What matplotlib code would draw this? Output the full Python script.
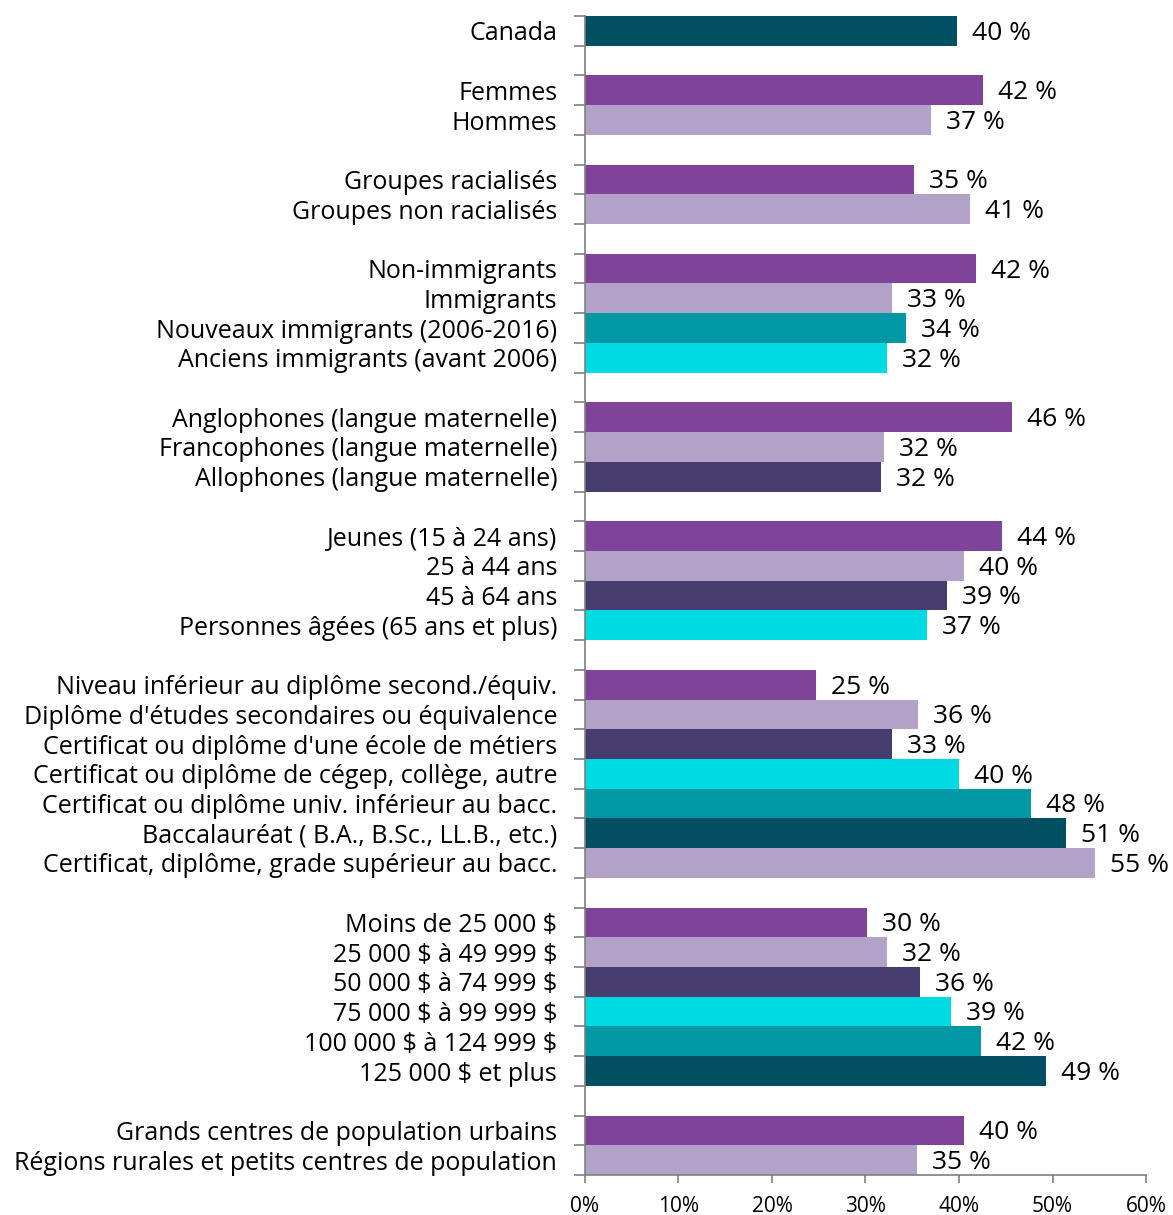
import matplotlib.pyplot as plt
import numpy as np

plt.rcParams['font.family'] = ['Open Sans', 'DejaVu Sans']
plt.rcParams['text.parse_math'] = False

DT = '#004f63'   # dark teal
PU = '#7f4499'   # purple
LP = '#b3a2c8'   # light purple
IN = '#463c6d'   # indigo
CY = '#00dae3'   # cyan
TE = '#0098a4'   # teal

# groups of (label, value, value label, colour); a gap row separates groups
groups = [
    [('Canada', 39.8, '40 %', DT)],
    [('Femmes', 42.6, '42 %', PU),
     ('Hommes', 37.0, '37 %', LP)],
    [('Groupes racialisés', 35.2, '35 %', PU),
     ('Groupes non racialisés', 41.2, '41 %', LP)],
    [('Non-immigrants', 41.8, '42 %', PU),
     ('Immigrants', 32.8, '33 %', LP),
     ('Nouveaux immigrants (2006-2016)', 34.3, '34 %', TE),
     ('Anciens immigrants (avant 2006)', 32.3, '32 %', CY)],
    [('Anglophones (langue maternelle)', 45.7, '46 %', PU),
     ('Francophones (langue maternelle)', 32.0, '32 %', LP),
     ('Allophones (langue maternelle)', 31.7, '32 %', IN)],
    [('Jeunes (15 à 24 ans)', 44.6, '44 %', PU),
     ('25 à 44 ans', 40.5, '40 %', LP),
     ('45 à 64 ans', 38.7, '39 %', IN),
     ('Personnes âgées (65 ans et plus)', 36.6, '37 %', CY)],
    [('Niveau inférieur au diplôme second./équiv.', 24.7, '25 %', PU),
     ("Diplôme d'études secondaires ou équivalence", 35.6, '36 %', LP),
     ("Certificat ou diplôme d'une école de métiers", 32.8, '33 %', IN),
     ('Certificat ou diplôme de cégep, collège, autre', 40.0, '40 %', CY),
     ('Certificat ou diplôme univ. inférieur au bacc.', 47.7, '48 %', TE),
     ('Baccalauréat ( B.A., B.Sc., LL.B., etc.)', 51.4, '51 %', DT),
     ('Certificat, diplôme, grade supérieur au bacc.', 54.5, '55 %', LP)],
    [('Moins de 25 000 $', 30.2, '30 %', PU),
     ('25 000 $ à 49 999 $', 32.3, '32 %', LP),
     ('50 000 $ à 74 999 $', 35.8, '36 %', IN),
     ('75 000 $ à 99 999 $', 39.1, '39 %', CY),
     ('100 000 $ à 124 999 $', 42.4, '42 %', TE),
     ('125 000 $ et plus', 49.3, '49 %', DT)],
    [('Grands centres de population urbains', 40.5, '40 %', PU),
     ('Régions rurales et petits centres de population', 35.5, '35 %', LP)],
]

labels, values, vlabels, colors = [], [], [], []
for gi, g in enumerate(groups):
    if gi > 0:
        labels.append('')
        values.append(np.nan)
        vlabels.append('')
        colors.append('white')
    for lab, v, vl, c in g:
        labels.append(lab)
        values.append(v)
        vlabels.append(vl)
        colors.append(c)

n = len(labels)
y = np.arange(n)

fig = plt.figure(figsize=(11.73, 12.15), dpi=100)
ax = fig.add_axes([0.4987, 0.0329, 0.4783, 0.9539])

ax.barh(y, np.nan_to_num(values), height=1.0, color=colors)
for yi, v, vl in zip(y, values, vlabels):
    if vl:
        ax.text(v + 1.6, yi + 0.08, vl, va='center', ha='left', fontsize=19, color='black')

ax.set_ylim(n - 0.5, -0.5)
ax.set_xlim(0, 60)
ax.set_yticks(y)
ax.set_yticklabels(labels, fontsize=18)
ax.set_yticks(np.arange(n + 1) - 0.5, minor=True)
ax.tick_params(axis='y', which='major', length=0, pad=20)
ax.tick_params(axis='y', which='minor', length=8, width=1.2, color='#7f7f7f', direction='out')

ax.set_xticks(np.arange(0, 61, 10))
ax.set_xticklabels([f'{t}%' for t in range(0, 61, 10)], fontsize=15)
ax.tick_params(axis='x', length=6, width=1.2, color='#7f7f7f', pad=9)

for s in ['top', 'right']:
    ax.spines[s].set_visible(False)
for s in ['left', 'bottom']:
    ax.spines[s].set_color('#7f7f7f')
    ax.spines[s].set_linewidth(1.2)

fig.savefig('out.png', dpi=100)
